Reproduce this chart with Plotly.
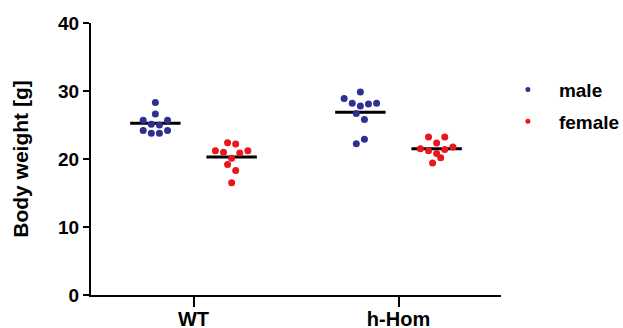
import plotly.graph_objects as go

# ---- data ----
categories = ["WT", "h-Hom"]
wt_male = [28.3, 26.6, 25.7, 25.7, 25.1, 25.0, 24.2, 24.2, 23.8, 23.8]
wt_female = [22.4, 22.2, 21.2, 21.0, 20.9, 21.2, 20.1, 19.2, 18.3, 16.5]
hom_male = [29.85, 28.9, 28.2, 27.8, 28.1, 28.2, 26.7, 25.8, 22.9, 22.25]
hom_female = [23.25, 23.25, 22.35, 21.5, 21.2, 21.4, 21.75, 20.8, 20.2, 19.4]
# horizontal scatter positions within each column (in dot steps)
wt_male_jit = [0, 0, -3, 3, -1, 1, -3, 3, -1, 1]
wt_female_jit = [-1, 1, -4, -2, 2, 4, 0, -1, 1, 0]
hom_male_jit = [0, -4, -2, 0, 2, 4, -1, 1, 1, -1]
hom_female_jit = [-2, 2, 0, -4, -2, 2, 4, 0, 1, -1]

BLUE = "#2e3192"
RED = "#e8161d"
STEP = 0.0198      # horizontal dot step, category units
GROUP_OFF = 0.186  # sex offset from category centre
HALF_MEAN = 0.123  # half width of mean line

groups = [
    (0, -1, wt_male, wt_male_jit, BLUE),
    (0, 1, wt_female, wt_female_jit, RED),
    (1, -1, hom_male, hom_male_jit, BLUE),
    (1, 1, hom_female, hom_female_jit, RED),
]

fig = go.Figure()
for cat, side, vals, jit, col in groups:
    c = cat + side * GROUP_OFF
    m = sum(vals) / len(vals)
    fig.add_trace(go.Scatter(
        x=[c - HALF_MEAN, c + HALF_MEAN], y=[m, m], mode="lines",
        line=dict(color="black", width=3), showlegend=False, hoverinfo="skip"))
    fig.add_trace(go.Scatter(
        x=[c + j * STEP for j in jit], y=vals, mode="markers",
        marker=dict(color=col, size=7), showlegend=False))

for name, col, grp in [("male", BLUE, "a"), ("female", RED, "b")]:
    fig.add_trace(go.Scatter(
        x=[None], y=[None], mode="markers", name=name, legendgroup=grp,
        marker=dict(color=col, size=5)))

def bold(size):
    return dict(family="Liberation Sans", size=size, color="black", weight="bold")

fig.update_layout(
    width=623, height=328,
    margin=dict(l=91, r=122, t=23, b=33, autoexpand=False),
    plot_bgcolor="white", paper_bgcolor="white",
    xaxis=dict(range=[-0.5, 1.5], tickvals=[0, 1], ticktext=categories,
               showline=True, linecolor="black", linewidth=2,
               ticks="outside", ticklen=10, tickwidth=2, tickcolor="black",
               ticklabelstandoff=-5,
               showgrid=False, zeroline=False, tickfont=bold(20),
               automargin=False),
    yaxis=dict(range=[0, 40], tickvals=[0, 10, 20, 30, 40],
               showline=True, linecolor="black", linewidth=2,
               ticks="outside", ticklen=6, tickwidth=2, tickcolor="black",
               showgrid=False, zeroline=False, tickfont=bold(19),
               automargin=False,
               title=dict(text="Body weight [g]", standoff=24, font=bold(21))),
    legend=dict(x=0.99, xanchor="left", y=0.825, yanchor="top",
                itemwidth=52, traceorder="grouped", tracegroupgap=4,
                font=bold(19), bgcolor="rgba(0,0,0,0)"),
)

fig.write_html("out.html", config={"displayModeBar": False},
               post_script="document.body.style.margin='0';document.body.style.overflow='hidden';")
